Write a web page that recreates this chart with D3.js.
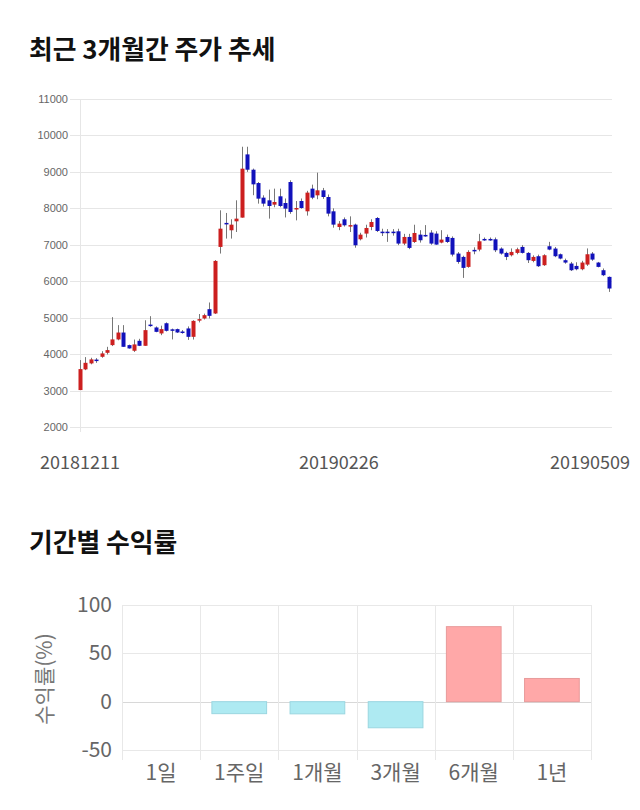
<!DOCTYPE html>
<html><head><meta charset="utf-8">
<script src="https://cdn.jsdelivr.net/npm/d3@7"></script>
<style>
body{margin:0;background:#fff;}
svg{display:block;}
</style></head>
<body>
<svg id="c" width="640" height="810"></svg>
<script>
// ---- candlestick data ----
const opens  = [3014,3581,3745,3850,3926,4036,4247,4403,4592,4247,4092,4365,4228,4810,4731,4567,4847,4680,4686,4620,4704,4474,4940,4978,5233,5115,6941,7600,7398,7644,7745,9480,9060,8694,8293,8220,8101,8330,8146,8722,7990,8201,7918,8540,8357,8494,8311,7918,7488,7699,7520,7553,7151,7307,7488,7735,7360,7360,7360,7370,7033,7215,7077,7278,7270,7334,7307,7060,7215,7188,6759,6667,6393,6860,6868,7160,7160,7151,6896,6777,6713,6777,6941,6777,6557,6686,6440,6960,6896,6740,6577,6485,6420,6329,6457,6759,6512,6302,6119];
const highs  = [3836,3918,3900,3890,4080,4200,5014,4795,4795,4260,4400,4420,4929,5041,4760,4780,4870,4700,4700,4660,4760,4930,5100,5110,5417,6580,7946,7873,7700,8220,9690,9690,9090,8722,8357,8513,8540,8540,8270,8770,8200,8270,8480,8650,8979,8560,8380,8000,7650,7750,7780,7580,7330,7550,7700,7760,7440,7430,7430,7440,7300,7300,7550,7400,7540,7400,7370,7400,7280,7230,6800,6700,6850,6930,7300,7200,7200,7200,6930,6810,6900,6920,6990,6800,6710,6730,6740,7080,6940,6760,6620,6530,6520,6560,6900,6800,6530,6350,6130];
const lows   = [3014,3560,3720,3760,3900,3990,4220,4380,4200,4150,4060,4220,4228,4749,4600,4520,4620,4403,4580,4560,4390,4400,4870,4950,4978,5100,6759,7170,7170,7351,7745,9000,8360,8129,8050,7718,8030,8030,7750,7850,7670,7990,7800,8250,8250,8260,7780,7470,7400,7500,7350,6920,7120,7200,7400,7350,7240,7080,7250,6990,6990,6880,7050,7060,7220,7000,7000,7040,7050,6680,6480,6091,6370,6740,6820,7110,7110,6800,6730,6580,6680,6740,6760,6500,6520,6390,6420,6850,6660,6600,6480,6280,6300,6300,6420,6560,6380,6140,5707];
const closes = [3589,3761,3855,3830,4019,4110,4403,4592,4200,4156,4266,4228,4658,4790,4611,4686,4639,4660,4594,4600,4474,4912,4960,5069,5050,6557,7442,7579,7552,7717,9088,9060,8658,8266,8129,8064,8174,8064,7992,7900,8009,8009,8431,8293,8494,8311,7855,7553,7580,7535,7540,6986,7278,7461,7625,7379,7345,7345,7345,7033,7215,6914,7324,7124,7255,7033,7005,7142,7077,6731,6529,6366,6804,6845,7096,7145,7145,6850,6759,6667,6804,6877,6777,6577,6667,6412,6713,6868,6686,6622,6512,6302,6329,6512,6740,6594,6393,6165,5800];
const priceTicks = [2000,3000,4000,5000,6000,7000,8000,9000,10000,11000];
const dateLabels = ["20181211","20190226","20190509"];
const dateLabelIdx = [0,48,98];

// ---- returns data ----
const periods = ["1일","1주일","1개월","3개월","6개월","1년"];
const returns = [0,-12.4,-12.6,-27,77.6,24];
const returnTicks = [100,50,0,-50];

const svg = d3.select("#c");
const KR = "'Noto Sans CJK KR','Noto Sans',sans-serif";

// titles
svg.append("text").attr("x",29).attr("y",59).text("최근 3개월간 주가 추세")
  .attr("font-family",KR).attr("font-weight",700).attr("font-size",25.8).attr("fill","#111");
svg.append("text").attr("x",29).attr("y",552).text("기간별 수익률")
  .attr("font-family",KR).attr("font-weight",700).attr("font-size",25.8).attr("fill","#111");

// ---- candlestick chart ----
const n = opens.length;
const x = d3.scaleLinear().domain([0,n-1]).range([80,608.5]);
const y = d3.scaleLinear().domain([2000,11000]).range([427,99]);

const g1 = svg.append("g");
g1.selectAll("line.grid").data(priceTicks).join("line")
  .attr("x1",70).attr("x2",612).attr("y1",d=>Math.round(y(d))+0.5).attr("y2",d=>Math.round(y(d))+0.5)
  .attr("stroke","#e6e6e6").attr("stroke-width",1);
g1.append("line").attr("x1",80.5).attr("x2",80.5).attr("y1",99).attr("y2",432)
  .attr("stroke","#e6e6e6");
g1.selectAll("text.yl").data(priceTicks).join("text")
  .attr("x",68).attr("y",d=>y(d)+4).attr("text-anchor","end")
  .attr("font-family","'Liberation Sans',Arial,sans-serif").attr("font-size",11).attr("fill","#666")
  .text(d=>d);

const idx = d3.range(n);
const up = i => closes[i] >= opens[i];
const RED = "#cc1f1f", BLUE = "#1111bb";
g1.selectAll("line.wick").data(idx).join("line")
  .attr("x1",i=>Math.round(x(i))+0.5).attr("x2",i=>Math.round(x(i))+0.5)
  .attr("y1",i=>y(highs[i])).attr("y2",i=>y(lows[i]))
  .attr("stroke","#777").attr("stroke-width",1);
g1.selectAll("rect.body").data(idx).join("rect")
  .attr("x",i=>Math.round(x(i))-1.5).attr("width",4)
  .attr("y",i=>y(Math.max(opens[i],closes[i])))
  .attr("height",i=>Math.max(1.5,Math.abs(y(opens[i])-y(closes[i]))))
  .attr("fill",i=>up(i)?RED:BLUE);

g1.selectAll("text.xl").data(dateLabels).join("text")
  .attr("x",(d,k)=>Math.min(x(dateLabelIdx[k]),630-40)).attr("y",469)
  .attr("text-anchor","middle").attr("font-family",KR).attr("font-size",18).attr("fill","#555")
  .text(d=>d);

// ---- returns bar chart ----
const xb = d3.scaleBand().domain(periods).range([122,591]).paddingInner(0.3).paddingOuter(0.15);
const yb = d3.scaleLinear().domain([-50,100]).range([750,605]);
const g2 = svg.append("g");
g2.selectAll("line.hg").data(returnTicks).join("line")
  .attr("x1",122).attr("x2",591).attr("y1",d=>Math.round(yb(d))+0.5).attr("y2",d=>Math.round(yb(d))+0.5)
  .attr("stroke",d=>d===0?"#d8d8d8":"#e8e8e8");
const step = (591-122)/periods.length;
g2.selectAll("line.vg").data(d3.range(periods.length+1)).join("line")
  .attr("x1",k=>Math.round(122+k*step)+0.5).attr("x2",k=>Math.round(122+k*step)+0.5)
  .attr("y1",605).attr("y2",760).attr("stroke","#e8e8e8");
g2.selectAll("text.yl").data(returnTicks).join("text")
  .attr("x",112).attr("y",d=>yb(d)+7).attr("text-anchor","end")
  .attr("font-family",KR).attr("font-size",21).attr("fill","#666").text(d=>d);
g2.append("text").attr("transform","translate(52,679) rotate(-90)").attr("text-anchor","middle")
  .attr("font-family",KR).attr("font-size",21).attr("fill","#777").text("수익률(%)");
g2.selectAll("rect.bar").data(periods.map((p,k)=>({p,v:returns[k]})).filter(d=>d.v!==0)).join("rect")
  .attr("x",d=>xb(d.p)).attr("width",xb.bandwidth())
  .attr("y",d=>yb(Math.max(0,d.v))).attr("height",d=>Math.abs(yb(d.v)-yb(0)))
  .attr("fill",d=>d.v>=0?"#ffa8a8":"#aeeaf2")
  .attr("stroke",d=>d.v>=0?"#e89a9a":"#9ad6e0").attr("stroke-width",1);
g2.selectAll("text.cat").data(periods).join("text")
  .attr("x",d=>xb(d)+xb.bandwidth()/2).attr("y",780).attr("text-anchor","middle")
  .attr("font-family",KR).attr("font-size",21).attr("fill","#666").text(d=>d);
</script>
</body></html>
